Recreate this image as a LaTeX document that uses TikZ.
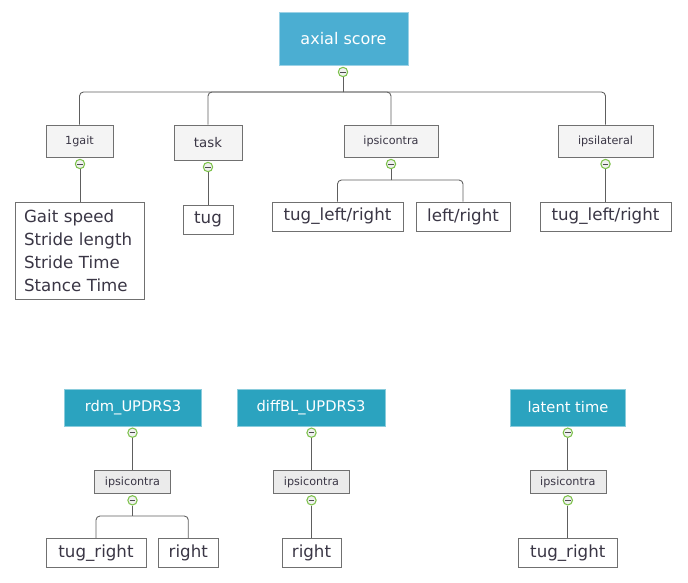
\documentclass[tikz,border=0pt]{standalone}
\usepackage{fontspec}
\setmainfont{DejaVu Sans}
\definecolor{rootblue}{HTML}{4BAED2}
\definecolor{tealblue}{HTML}{2BA3BF}
\definecolor{boxline}{HTML}{707070}
\definecolor{linegray}{HTML}{5E5E5E}
\definecolor{togglegreen}{HTML}{7DC24B}
\definecolor{catfill}{HTML}{F4F4F4}
\definecolor{subfill}{HTML}{EBEBEB}
\definecolor{txt}{HTML}{3A3645}

\begin{document}
\begin{tikzpicture}[x=0.75pt,y=-0.75pt,
    root/.style={fill=rootblue,draw=rootblue!55!white,text=white,inner sep=0pt,
      font=\fontsize{12}{14}\selectfont},
    model/.style={fill=tealblue,draw=tealblue!55!white,text=white,inner sep=0pt,
      minimum height=27.4pt,font=\fontsize{11}{13}\selectfont},
    cat/.style={fill=catfill,draw=boxline,text=txt,inner sep=0pt,minimum height=24pt,
      font=\fontsize{8.4}{10}\selectfont},
    sub/.style={fill=subfill,draw=boxline,text=txt,inner sep=0pt,minimum height=17.25pt,
      minimum width=57pt,font=\fontsize{8.4}{10}\selectfont},
    leaf/.style={fill=white,draw=boxline,text=txt,inner sep=0pt,minimum height=21.9pt,
      font=\fontsize{12.5}{17.25}\selectfont},
    toggle/.style={circle,draw=togglegreen,fill=gray!12,line width=0.8pt,inner sep=0pt,
      minimum size=7pt,
      path picture={\draw[gray!60!black,line width=0.7pt]
        ([xshift=-2.2pt]path picture bounding box.center) --
        ([xshift=2.2pt]path picture bounding box.center);}},
    conn/.style={draw=linegray,line width=0.65pt,rounded corners=3pt}]
  \useasboundingbox (0,0) rectangle (688,582);

  % upper tree
  \node[root,minimum width=96.75pt,minimum height=39.75pt] (axial) at (343.5,38.5) {axial score};
  \node[toggle] (t0) at (343,72) {};
  \coordinate (b0) at (343,92);
  \node[cat,minimum width=50.25pt] (gait) at (79.5,141) {1gait};
  \node[cat,minimum width=51pt,minimum height=26.25pt,font=\fontsize{10}{12}\selectfont] (task) at (208,142.5) {task};
  \node[cat,minimum width=70.5pt] (ipsi) at (391,141) {ipsicontra};
  \node[cat,minimum width=71.25pt] (ipsil) at (605.5,141) {ipsilateral};
  \node[toggle] (tg1) at (80,164) {};
  \node[toggle] (tg2) at (208,167) {};
  \node[toggle] (tg3) at (391,164) {};
  \node[toggle] (tg4) at (605.5,164) {};
  \coordinate (b3) at (391,180);
  \node[leaf,align=left,text width=83.25pt,inner xsep=6.75pt,minimum height=72.75pt] (gaitlist) at (79.5,250.5)
    {Gait speed\\Stride length\\Stride Time\\Stance Time};
  \node[leaf,minimum width=37.5pt] (tug) at (208,219.5) {tug};
  \node[leaf,minimum width=98.25pt] (tlr) at (337.5,216.5) {tug\_left/right};
  \node[leaf,minimum width=70.5pt] (lr) at (463,216.5) {left/right};
  \node[leaf,minimum width=98.25pt] (tlr2) at (605.5,216.5) {tug\_left/right};

  \draw[conn] (t0.south) -- (b0);
  \foreach \n in {gait,task,ipsi,ipsil}
    \draw[conn] (b0) -| (\n.north);
  \draw[conn] (tg1.south) -- (tg1.south |- gaitlist.north);
  \draw[conn] (tg2.south) -- (tg2.south |- tug.north);
  \draw[conn] (tg3.south) -- (b3);
  \draw[conn] (b3) -| (tlr.north);
  \draw[conn] (b3) -| (lr.north);
  \draw[conn] (tg4.south) -- (tg4.south |- tlr2.north);

  % lower trees
  \node[model,minimum width=102.75pt] (rdm) at (133,407.5) {rdm\_UPDRS3};
  \node[toggle] (trdm) at (132.5,432.7) {};
  \node[sub] (ic1) at (132.5,482) {ipsicontra};
  \node[toggle] (tic1) at (132.5,500.3) {};
  \coordinate (b5) at (132.5,516);
  \node[leaf,minimum width=75pt] (tr1) at (96,553) {tug\_right};
  \node[leaf,minimum width=45pt] (r1) at (188.3,553) {right};
  \draw[conn] (trdm.south) -- (trdm.south |- ic1.north);
  \draw[conn] (tic1.south) -- (b5);
  \draw[conn] (b5) -| (tr1.north);
  \draw[conn] (b5) -| (r1.north);

  \node[model,minimum width=111pt] (diff) at (311,407.5) {diffBL\_UPDRS3};
  \node[toggle] (tdiff) at (311.5,432.7) {};
  \node[sub] (ic2) at (311.5,482) {ipsicontra};
  \node[toggle] (tic2) at (311.5,500.3) {};
  \node[leaf,minimum width=44.5pt] (r2) at (311.5,553) {right};
  \draw[conn] (tdiff.south) -- (tdiff.south |- ic2.north);
  \draw[conn] (tic2.south) -- (tic2.south |- r2.north);

  \node[model,minimum width=86.25pt] (lat) at (568,407.5) {latent time};
  \node[toggle] (tlat) at (567.8,432.7) {};
  \node[sub] (ic3) at (567.8,482) {ipsicontra};
  \node[toggle] (tic3) at (567.8,500.3) {};
  \node[leaf,minimum width=74.25pt] (tr3) at (567.8,553) {tug\_right};
  \draw[conn] (tlat.south) -- (tlat.south |- ic3.north);
  \draw[conn] (tic3.south) -- (tic3.south |- tr3.north);
\end{tikzpicture}
\end{document}
